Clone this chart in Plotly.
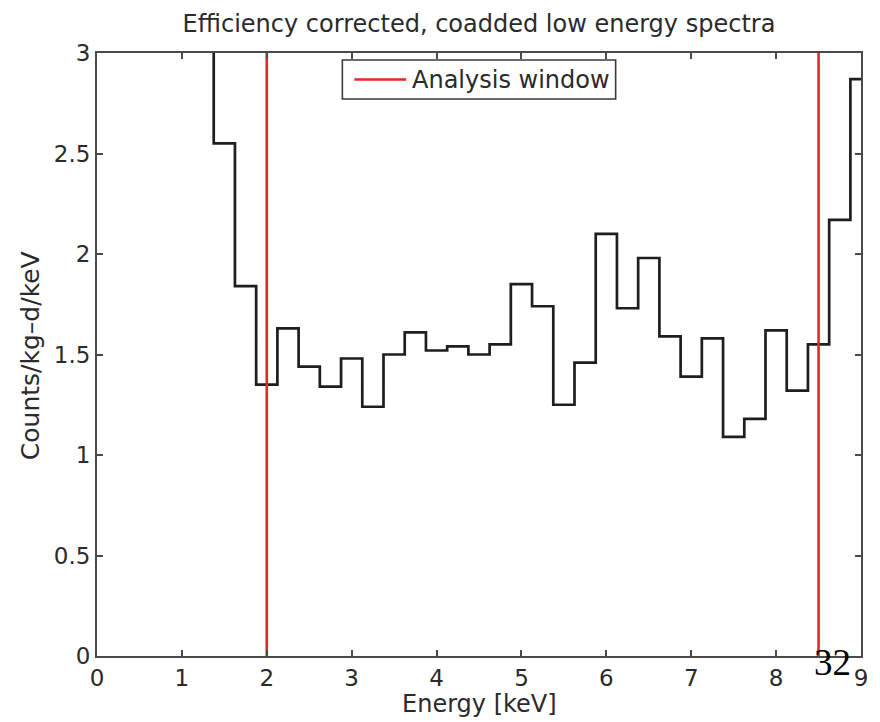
import plotly.graph_objects as go

# Coadded low-energy spectrum, 0.25 keV bins (left bin edges in keV)
bin_width = 0.25
bin_lo = [1.125 + bin_width * i for i in range(32)]
counts = [3.6, 2.55, 1.84, 1.35, 1.63, 1.44, 1.34, 1.48, 1.24, 1.50, 1.61,
          1.52, 1.54, 1.50, 1.55, 1.85, 1.74, 1.25, 1.46, 2.10, 1.73, 1.98,
          1.59, 1.39, 1.58, 1.09, 1.18, 1.62, 1.32, 1.55, 2.17, 2.87]

# Analysis window boundaries (keV)
window = [2.0, 8.5]
window_label = "Analysis window"

x_ticks = [0, 1, 2, 3, 4, 5, 6, 7, 8, 9]
y_ticks = [0, 0.5, 1, 1.5, 2, 2.5, 3]
x_range = [0, 9]
y_range = [0, 3]

FONT = "DejaVu Sans, Verdana, sans-serif"
TEXT = "#2a2a2a"
RED = "rgb(232,38,38)"

# plot area in pixels (used to place the boxed legend in paper units)
L, R, T, B = 97, 863, 53, 656
def px(xp):
    return (xp - L) / (R - L)
def py(yp):
    return (B - yp) / (B - T)

step_x = bin_lo + [bin_lo[-1] + bin_width]
step_y = counts + [counts[-1]]

fig = go.Figure()

fig.add_trace(go.Scatter(
    x=step_x, y=step_y, mode="lines", line_shape="hv",
    line=dict(color="#1e1e1e", width=2.7),
    showlegend=False, hoverinfo="skip",
))

win_x, win_y = [], []
for w in window:
    win_x += [w, w, None]
    win_y += [y_range[0], y_range[1], None]

fig.add_trace(go.Scatter(
    x=win_x, y=win_y, mode="lines",
    line=dict(color=RED, width=2.6),
    name=window_label, showlegend=False,
))

axis_common = dict(
    showline=True, linecolor="#4a4a4a", linewidth=2, mirror="ticks",
    ticks="inside", ticklen=6, tickwidth=1.5, tickcolor="#4a4a4a",
    showgrid=False, zeroline=False,
    tickfont=dict(family=FONT, size=23, color=TEXT),
)

fig.update_xaxes(range=x_range, tickvals=x_ticks, ticktext=[str(t) for t in x_ticks],
                 **axis_common)
fig.update_yaxes(range=y_range, tickvals=y_ticks, ticktext=[f"{t:g}" for t in y_ticks],
                 **axis_common)

# boxed legend with a long line sample
legend_shapes = [
    dict(type="rect", xref="paper", yref="paper",
         x0=px(343), x1=px(617), y0=py(99), y1=py(60),
         line=dict(color="#3a3a3a", width=1.6), fillcolor="white", layer="above"),
    dict(type="line", xref="paper", yref="paper",
         x0=px(355), x1=px(407), y0=py(79.5), y1=py(79.5),
         line=dict(color=RED, width=2.6), layer="above"),
]

fig.update_layout(
    width=880, height=722,
    margin=dict(l=L, r=880 - R, t=T, b=722 - B),
    paper_bgcolor="white", plot_bgcolor="white",
    font=dict(family=FONT, color=TEXT),
    showlegend=False,
    shapes=legend_shapes,
    title=dict(text="Efficiency corrected, coadded low energy spectra",
               x=0.5, xref="paper", xanchor="center",
               y=1 - 24 / 722, yanchor="middle",
               font=dict(size=24, color=TEXT)),
    annotations=[
        dict(text=window_label, xref="paper", yref="paper", x=px(411), y=py(80),
             xanchor="left", yanchor="middle", showarrow=False,
             font=dict(size=24, color=TEXT)),
        dict(text="Energy [keV]", xref="paper", yref="paper", x=0.5, y=py(704),
             xanchor="center", yanchor="middle", showarrow=False,
             font=dict(size=24, color=TEXT)),
        dict(text="Counts/kg\u2013d/keV", xref="paper", yref="paper",
             x=px(30), y=py(356),
             xanchor="center", yanchor="middle", textangle=-90, showarrow=False,
             font=dict(size=25, color=TEXT)),
        dict(text="32", xref="paper", yref="paper", x=px(834), y=py(662),
             xanchor="center", yanchor="middle", showarrow=False,
             font=dict(family="Liberation Serif, Times New Roman, serif", size=37,
                       color="black")),
    ],
)

fig.write_html("out.html")
